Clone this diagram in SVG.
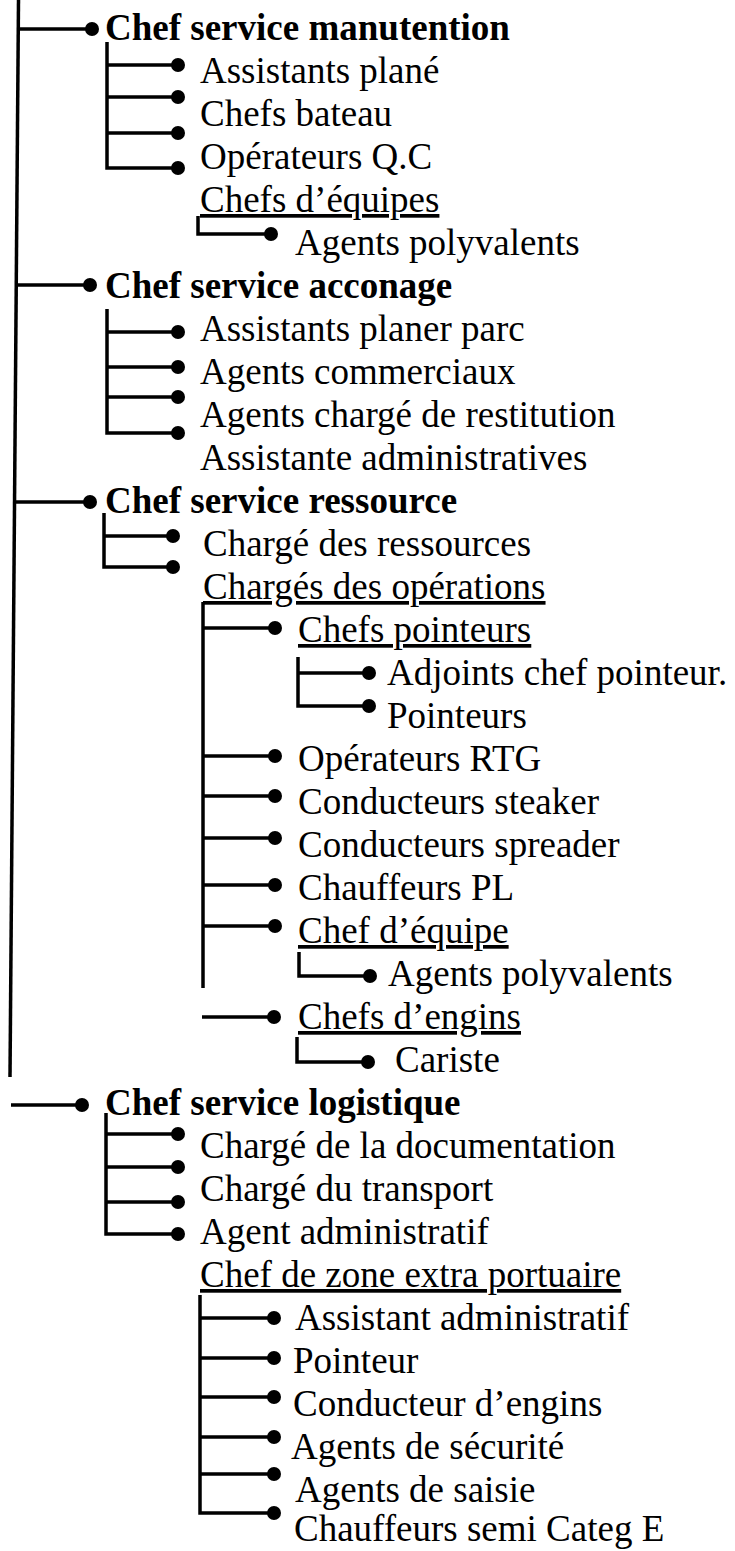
<svg xmlns="http://www.w3.org/2000/svg" width="735" height="1551" viewBox="0 0 735 1551">
<style>
text{font-family:"Liberation Serif","Times New Roman",serif;font-size:37px;fill:#000}
.b{font-weight:bold}
.u{text-decoration:underline}
.c{fill:none;stroke:#000;stroke-width:3.5}
.d{fill:#000}
</style>
<defs>
<marker id="dot" markerUnits="userSpaceOnUse" markerWidth="16" markerHeight="16" refX="8" refY="8" orient="0">
<circle cx="8" cy="8" r="7" class="d"/>
</marker>
</defs>
<rect width="735" height="1551" fill="#fff"/>
<g id="connectors">
<path class="c" d="M18.5,0 L10,1077"/>
<!-- manutention -->
<path class="c" d="M18,29 H92" marker-end="url(#dot)"/>
<path class="c" d="M107,42 V168 H178" marker-end="url(#dot)"/>
<path class="c" d="M107,65 H178" marker-end="url(#dot)"/>
<path class="c" d="M107,97 H178" marker-end="url(#dot)"/>
<path class="c" d="M107,133 H178" marker-end="url(#dot)"/>
<path class="c" d="M198,216 V234 H271" marker-end="url(#dot)"/>
<!-- acconage -->
<path class="c" d="M15,285 H90" marker-end="url(#dot)"/>
<path class="c" d="M107,309 V433 H178" marker-end="url(#dot)"/>
<path class="c" d="M107,332 H178" marker-end="url(#dot)"/>
<path class="c" d="M107,367 H178" marker-end="url(#dot)"/>
<path class="c" d="M107,397 H178" marker-end="url(#dot)"/>
<!-- ressource -->
<path class="c" d="M14,502 H90" marker-end="url(#dot)"/>
<path class="c" d="M104,513 V567 H173" marker-end="url(#dot)"/>
<path class="c" d="M104,536 H173" marker-end="url(#dot)"/>
<path class="c" d="M203,602 V988"/>
<path class="c" d="M203,628 H275" marker-end="url(#dot)"/>
<path class="c" d="M298,657 V706 H369" marker-end="url(#dot)"/>
<path class="c" d="M298,673 H369" marker-end="url(#dot)"/>
<path class="c" d="M203,756 H275" marker-end="url(#dot)"/>
<path class="c" d="M203,796 H275" marker-end="url(#dot)"/>
<path class="c" d="M203,838 H275" marker-end="url(#dot)"/>
<path class="c" d="M203,885 H275" marker-end="url(#dot)"/>
<path class="c" d="M203,926 H275" marker-end="url(#dot)"/>
<path class="c" d="M299,952 V976 H370" marker-end="url(#dot)"/>
<path class="c" d="M202,1017 H274" marker-end="url(#dot)"/>
<path class="c" d="M297,1037 V1062 H368" marker-end="url(#dot)"/>
<!-- logistique -->
<path class="c" d="M11,1105 H82" marker-end="url(#dot)"/>
<path class="c" d="M106,1113 V1234 H178" marker-end="url(#dot)"/>
<path class="c" d="M106,1134 H178" marker-end="url(#dot)"/>
<path class="c" d="M106,1167 H178" marker-end="url(#dot)"/>
<path class="c" d="M106,1202 H178" marker-end="url(#dot)"/>
<path class="c" d="M200,1295 V1513 H274" marker-end="url(#dot)"/>
<path class="c" d="M200,1318 H274" marker-end="url(#dot)"/>
<path class="c" d="M200,1358 H274" marker-end="url(#dot)"/>
<path class="c" d="M200,1397 H274" marker-end="url(#dot)"/>
<path class="c" d="M200,1437 H274" marker-end="url(#dot)"/>
<path class="c" d="M200,1474 H274" marker-end="url(#dot)"/>
</g>
<g id="n-manutention"><text class="b" x="105" y="40">Chef service manutention</text></g>
<g id="n-assistants-plane"><text x="200" y="83">Assistants plané</text></g>
<g id="n-chefs-bateau"><text x="200" y="126">Chefs bateau</text></g>
<g id="n-operateurs-qc"><text x="200" y="169">Opérateurs Q.C</text></g>
<g id="n-chefs-equipes"><text class="u" x="200" y="212">Chefs d’équipes</text></g>
<g id="n-agents-polyvalents-1"><text x="295" y="255">Agents polyvalents</text></g>
<g id="n-acconage"><text class="b" x="105" y="298">Chef service acconage</text></g>
<g id="n-assistants-planer"><text x="200" y="341">Assistants planer parc</text></g>
<g id="n-agents-commerciaux"><text x="200" y="384">Agents commerciaux</text></g>
<g id="n-agents-restitution"><text x="200" y="427">Agents chargé de restitution</text></g>
<g id="n-assistante-admin"><text x="200" y="470">Assistante administratives</text></g>
<g id="n-ressource"><text class="b" x="105" y="513">Chef service ressource</text></g>
<g id="n-charge-ressources"><text x="203" y="556">Chargé des ressources</text></g>
<g id="n-charges-operations"><text class="u" x="203" y="599">Chargés des opérations</text></g>
<g id="n-chefs-pointeurs"><text class="u" x="298" y="642">Chefs pointeurs</text></g>
<g id="n-adjoints"><text x="387" y="685">Adjoints chef pointeur.</text></g>
<g id="n-pointeurs"><text x="387" y="728">Pointeurs</text></g>
<g id="n-operateurs-rtg"><text x="298" y="771">Opérateurs RTG</text></g>
<g id="n-steaker"><text x="298" y="814">Conducteurs steaker</text></g>
<g id="n-spreader"><text x="298" y="857">Conducteurs spreader</text></g>
<g id="n-chauffeurs-pl"><text x="298" y="900">Chauffeurs PL</text></g>
<g id="n-chef-equipe"><text class="u" x="298" y="943">Chef d’équipe</text></g>
<g id="n-agents-polyvalents-2"><text x="388" y="986">Agents polyvalents</text></g>
<g id="n-chefs-engins"><text class="u" x="298" y="1029">Chefs d’engins</text></g>
<g id="n-cariste"><text x="395" y="1072">Cariste</text></g>
<g id="n-logistique"><text class="b" x="105" y="1115">Chef service logistique</text></g>
<g id="n-documentation"><text x="200" y="1158">Chargé de la documentation</text></g>
<g id="n-transport"><text x="200" y="1201">Chargé du transport</text></g>
<g id="n-agent-admin"><text x="200" y="1244">Agent administratif</text></g>
<g id="n-chef-zone"><text class="u" x="200" y="1287">Chef de zone extra portuaire</text></g>
<g id="n-assistant-admin"><text x="295" y="1330">Assistant administratif</text></g>
<g id="n-pointeur"><text x="293" y="1373">Pointeur</text></g>
<g id="n-conducteur-engins"><text x="293" y="1416">Conducteur d’engins</text></g>
<g id="n-securite"><text x="291" y="1459">Agents de sécurité</text></g>
<g id="n-saisie"><text x="295" y="1502">Agents de saisie</text></g>
<g id="n-chauffeurs-semi"><text x="294" y="1541">Chauffeurs semi Categ E</text></g>
</svg>
